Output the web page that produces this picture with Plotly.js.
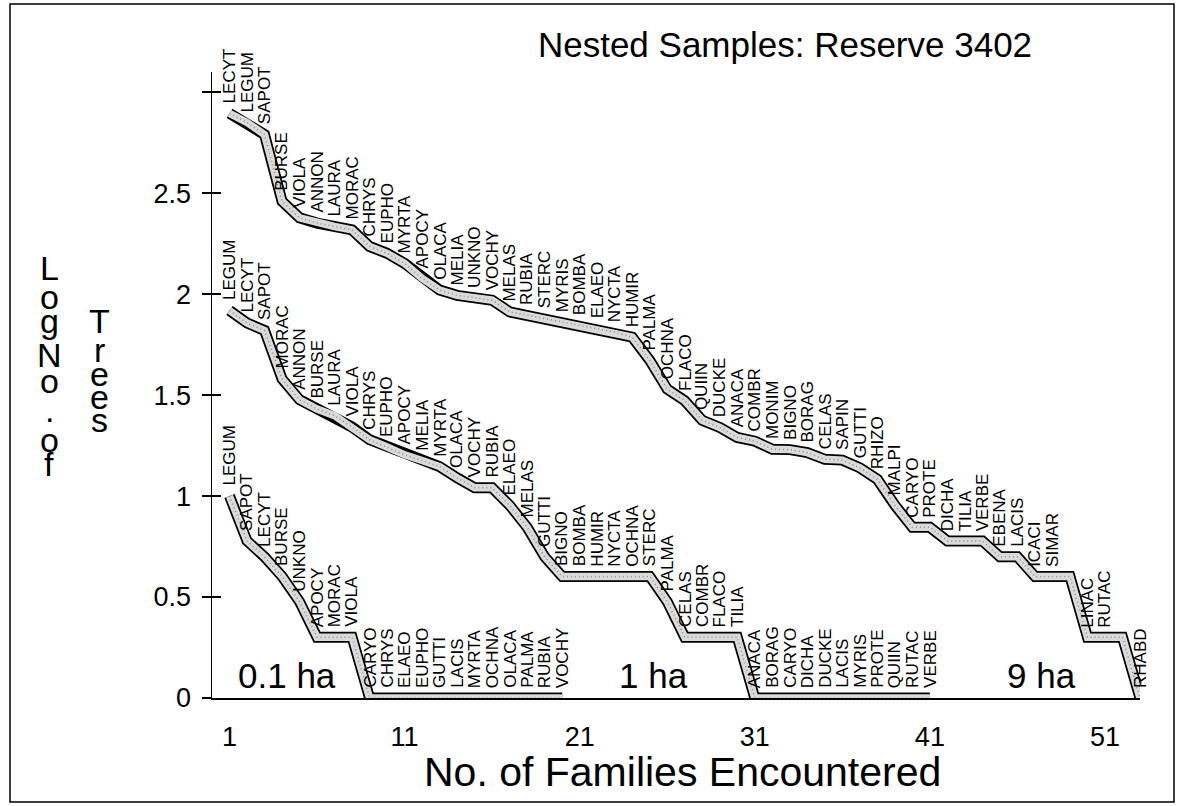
<!DOCTYPE html>
<html><head><meta charset="utf-8">
<script src="https://cdn.plot.ly/plotly-3.0.1.min.js"></script>
<style>html,body{margin:0;padding:0;background:#fff}#chart{width:1182px;height:806px}</style>
</head><body><div id="chart"></div>
<script>
// ---- data (log10 of number of trees, families in order encountered) ----
const families01 = ['LEGUM','SAPOT','LECYT','BURSE','UNKNO','APOCY','MORAC','VIOLA','CARYO','CHRYS','ELAEO','EUPHO','GUTTI','LACIS','MYRTA','OCHNA','OLACA','PALMA','RUBIA','VOCHY'];
const logTrees01 = [1.0,0.778,0.699,0.602,0.477,0.301,0.301,0.301,0,0,0,0,0,0,0,0,0,0,0,0];

const families1 = ['LEGUM','LECYT','SAPOT','MORAC','ANNON','BURSE','LAURA','VIOLA','CHRYS','EUPHO','APOCY','MELIA','MYRTA','OLACA','VOCHY','RUBIA','ELAEO','MELAS','GUTTI','BIGNO','BOMBA','HUMIR','NYCTA','OCHNA','STERC','PALMA','CELAS','COMBR','FLACO','TILIA','ANACA','BORAG','CARYO','DICHA','DUCKE','LACIS','MYRIS','PROTE','QUIIN','RUTAC','VERBE'];
const logTrees1 = [1.919,1.857,1.820,1.580,1.477,1.431,1.398,1.342,1.279,1.243,1.204,1.176,1.146,1.090,1.041,1.041,0.954,0.845,0.699,0.602,0.602,0.602,0.602,0.602,0.602,0.477,0.301,0.301,0.301,0.301,0,0,0,0,0,0,0,0,0,0,0];

const families9 = ['LECYT','LEGUM','SAPOT','BURSE','VIOLA','ANNON','LAURA','MORAC','CHRYS','EUPHO','MYRTA','APOCY','OLACA','MELIA','UNKNO','VOCHY','MELAS','RUBIA','STERC','MYRIS','BOMBA','ELAEO','NYCTA','HUMIR','PALMA','OCHNA','FLACO','QUIIN','DUCKE','ANACA','COMBR','MONIM','BIGNO','BORAG','CELAS','SAPIN','GUTTI','RHIZO','MALPI','CARYO','PROTE','DICHA','TILIA','VERBE','EBENA','LACIS','ICACI','SIMAR','','LINAC','RUTAC','','RHABD'];
const logTrees9 = [2.895,2.850,2.790,2.460,2.378,2.352,2.335,2.318,2.236,2.202,2.152,2.078,2.020,1.994,1.982,1.970,1.912,1.895,1.879,1.862,1.845,1.829,1.812,1.787,1.672,1.530,1.472,1.375,1.340,1.290,1.272,1.232,1.230,1.215,1.182,1.178,1.140,1.083,0.955,0.845,0.845,0.778,0.778,0.778,0.699,0.699,0.602,0.602,0.602,0.301,0.301,0.301,0];

const sampleNames = ['0.1 ha','1 ha','9 ha'];
const sampleLabelX = [4.3, 25.2, 47.4];
const xTickVals = [1,11,21,31,41,51];
const yTickVals = [0,0.5,1,1.5,2,2.5,3];
const yTickText = ['0','0.5','1','1.5','2','2.5',''];
const yTitleCol1 = ['L','o','g','N','o','.','o','f'];
const yTitleCol2 = ['T','r','e','e','s'];

// ---- build ----
const series = [[families01, logTrees01],[families1, logTrees1],[families9, logTrees9]];
const traces = [];
const annotations = [];
const SANS = 'Liberation Sans, Arial, sans-serif';
const LAB_FONT = {family:SANS, size:17, color:'#000'};
series.forEach(([fam, vals]) => {
  const xs = vals.map((_, i) => i + 1);
  traces.push({type:'scatter', mode:'lines', x:xs, y:vals, cliponaxis:false, hoverinfo:'skip',
    line:{color:'#000', width:11}, showlegend:false});
  traces.push({type:'scatter', mode:'lines', x:xs, y:vals, cliponaxis:false, hoverinfo:'skip',
    line:{color:'#dadada', width:7.5}, showlegend:false});
  traces.push({type:'scatter', mode:'lines', x:xs, y:vals, cliponaxis:false, hoverinfo:'skip',
    line:{color:'#8a8a8a', width:1.5, dash:'1px,3px'}, showlegend:false});
  fam.forEach((f, i) => {
    if (!f) return;
    annotations.push({x:xs[i], y:vals[i], xref:'x', yref:'y', text:f, textangle:-90, borderpad:0,
      showarrow:false, xanchor:'center', yanchor:'bottom', yshift:9, font:LAB_FONT});
  });
});
sampleNames.forEach((s, i) => annotations.push({x:sampleLabelX[i], y:0.11, xref:'x', yref:'y', text:s,
  showarrow:false, xanchor:'center', yanchor:'middle', font:{family:SANS, size:35, color:'#000'}}));

const W = 1182, H = 806, L = 212, R = 42, T = 72, B = 108;
const pw = W - L - R, ph = H - T - B;
const px2x = p => (p - L) / pw, py2y = p => (H - B - p) / ph;
const col1Y = [268,297,321,355,381,410,440,464];
const col2Y = [321,350,374,397,420];
yTitleCol1.forEach((c, i) => annotations.push({xref:'paper', yref:'paper', x:px2x(49), y:py2y(col1Y[i]),
  text:c, showarrow:false, xanchor:'center', yanchor:'middle', borderpad:0, font:{family:SANS, size:34, color:'#000'}}));
yTitleCol2.forEach((c, i) => annotations.push({xref:'paper', yref:'paper', x:px2x(99), y:py2y(col2Y[i]),
  text:c, showarrow:false, xanchor:'center', yanchor:'middle', borderpad:0, font:{family:SANS, size:34, color:'#000'}}));
annotations.push({xref:'paper', yref:'paper', x:px2x(682), y:py2y(772), text:'No. of Families Encountered',
  showarrow:false, xanchor:'center', yanchor:'middle', font:{family:SANS, size:41, color:'#000'}});

const layout = {
  width:W, height:H, margin:{l:L, r:R, t:T, b:B}, paper_bgcolor:'#fff', plot_bgcolor:'#fff',
  title:{text:'Nested Samples: Reserve 3402', xref:'container', yref:'container', x:785/W, y:1-45/H,
    xanchor:'center', yanchor:'middle', font:{family:SANS, size:35, color:'#000'}},
  xaxis:{range:[0,53], showline:true, linecolor:'#000', linewidth:1.5, ticks:'', showgrid:false, zeroline:false,
    tickvals:xTickVals, ticktext:xTickVals.map(String), ticklabelstandoff:14,
    tickfont:{family:SANS, size:27, color:'#000'}},
  yaxis:{range:[0,3.1], showline:true, linecolor:'#000', linewidth:1.5, ticks:'outside', ticklen:9, tickwidth:1.5,
    tickcolor:'#000', showgrid:false, zeroline:false, tickvals:yTickVals, ticktext:yTickText, ticklabelstandoff:5,
    tickfont:{family:SANS, size:27, color:'#000'}},
  yaxis2:{overlaying:'y', matches:'y', anchor:'x', side:'left', showline:false, ticks:'inside', ticklen:9, tickwidth:1.5,
    tickcolor:'#000', showticklabels:false, showgrid:false, zeroline:false, tickvals:[0.5,1,1.5,2,2.5,3]},
  shapes:[{type:'rect', xref:'paper', yref:'paper', x0:px2x(10), x1:px2x(1174), y0:py2y(802), y1:py2y(4),
    line:{color:'#000', width:1.5}, fillcolor:'rgba(0,0,0,0)'}],
  annotations:annotations
};
traces.push({type:'scatter', x:[1], y:[0], yaxis:'y2', mode:'markers', marker:{opacity:0}, hoverinfo:'skip', showlegend:false});
Plotly.newPlot('chart', traces, layout, {displayModeBar:false, staticPlot:true});
</script></body></html>
